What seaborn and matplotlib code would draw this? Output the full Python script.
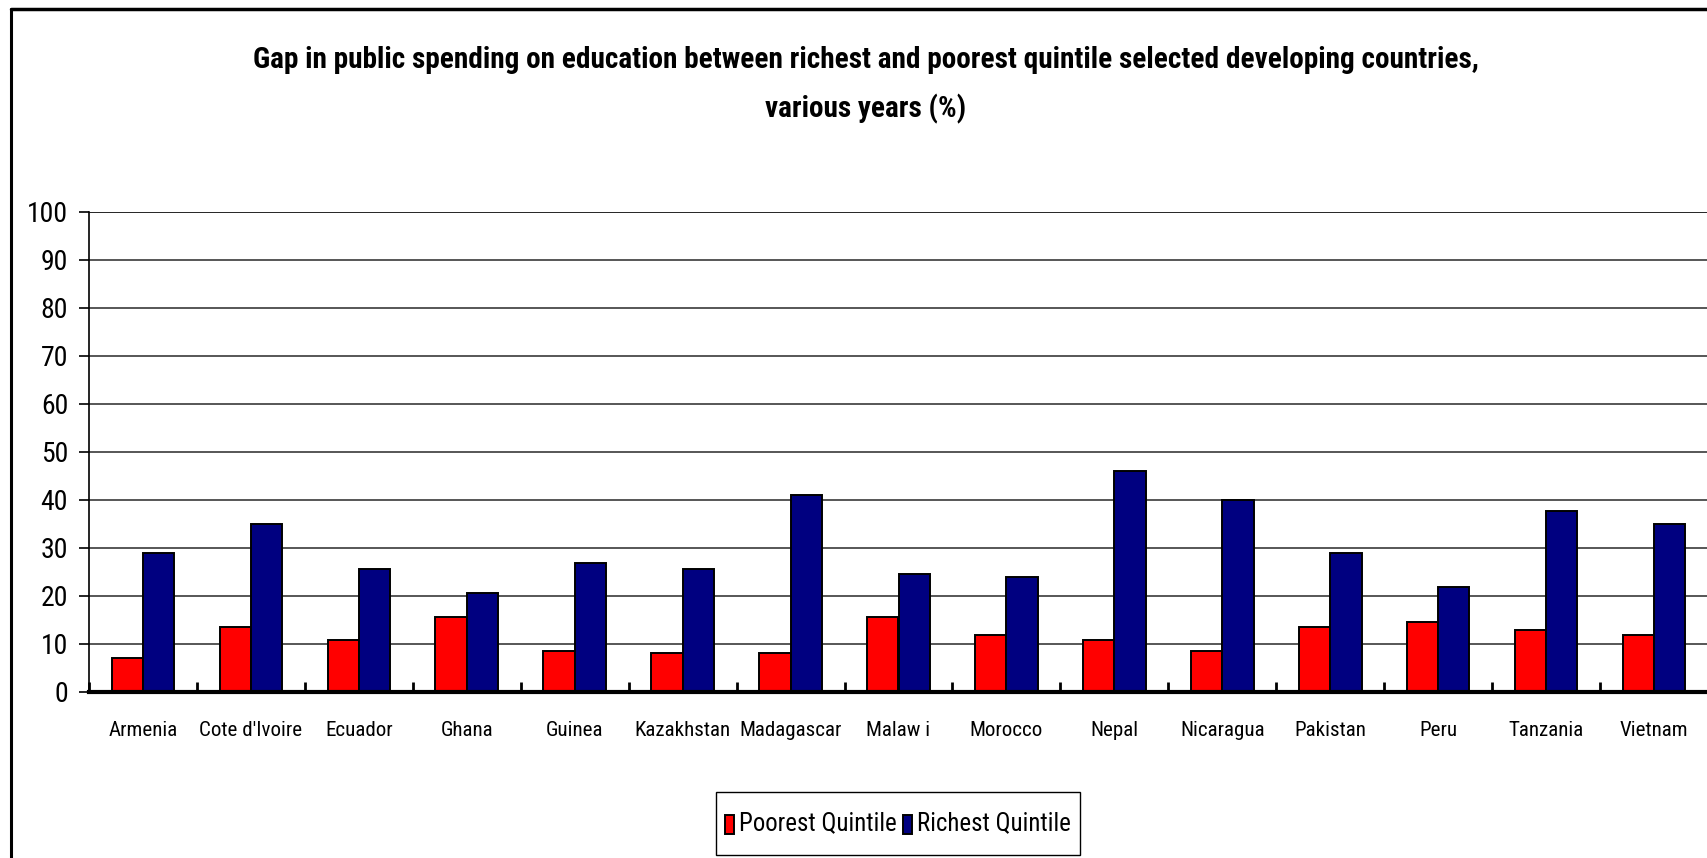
import matplotlib
matplotlib.use("Agg")
import matplotlib.pyplot as plt
import matplotlib.font_manager as fm
import seaborn as sns
import pandas as pd
from matplotlib.lines import Line2D
from matplotlib.patches import Rectangle

countries = ["Armenia", "Cote d'Ivoire", "Ecuador", "Ghana", "Guinea", "Kazakhstan",
             "Madagascar", "Malaw i", "Morocco", "Nepal", "Nicaragua", "Pakistan",
             "Peru", "Tanzania", "Vietnam"]
poorest = [7.0, 13.5, 10.8, 15.7, 8.6, 8.1, 8.1, 15.7, 11.9, 10.8, 8.6, 13.6, 14.6, 13.0, 11.8]
richest = [29.0, 35.0, 25.7, 20.7, 26.8, 25.7, 41.0, 24.5, 24.0, 46.0, 40.0, 28.9, 21.8, 37.8, 35.0]
series_names = ["Poorest Quintile", "Richest Quintile"]
colors = ["#FF0000", "#000080"]
yticks = [0, 10, 20, 30, 40, 50, 60, 70, 80, 90, 100]
title1 = "Gap in public spending on education between richest and poorest quintile selected developing countries,"
title2 = "various years (%)"

df = pd.DataFrame({
    "country": countries * 2,
    "value": poorest + richest,
    "series": [series_names[0]] * len(countries) + [series_names[1]] * len(countries),
})

sns.set_theme(style="white")

# ---- pick a narrow font if one is installed ----
def find_narrow():
    entries = fm.fontManager.ttflist
    prefs = ["Liberation Sans Narrow", "Arial Narrow", "Roboto Condensed",
             "Open Sans Condensed", "Noto Sans Condensed"]
    for p in prefs:
        fam = [e for e in entries if e.name == p and e.style == "normal"]
        if fam:
            reg = [e for e in fam if e.weight in (400, "normal", "regular")] or fam
            bold = [e for e in fam if e.weight in (700, "bold")] or reg
            return reg[0].fname, bold[0].fname
    for base in ["Noto Sans", "DejaVu Sans", "Open Sans"]:
        fam = [e for e in entries if e.name == base and e.style == "normal"
               and e.stretch in ("condensed", "semi-condensed", 75, 87.5)]
        if fam:
            reg = [e for e in fam if e.weight in (400, "normal", "regular")] or fam
            bold = [e for e in fam if e.weight in (700, "bold")] or reg
            return reg[0].fname, bold[0].fname
    return None, None

reg_path, bold_path = find_narrow()
if reg_path:
    FP = lambda: fm.FontProperties(fname=reg_path)
    FPB = lambda: fm.FontProperties(fname=bold_path)
else:
    FP = lambda: fm.FontProperties(family=["Liberation Sans", "DejaVu Sans"])
    FPB = lambda: fm.FontProperties(family=["Liberation Sans", "DejaVu Sans"], weight="bold")

plt.rcParams["font.family"] = ["Liberation Sans", "DejaVu Sans"]
plt.rcParams["text.color"] = "black"
plt.rcParams["xtick.color"] = "black"
plt.rcParams["ytick.color"] = "black"

W, H = 1708, 858
fig = plt.figure(figsize=(W / 100, H / 100), dpi=100)
renderer = fig.canvas.get_renderer()

def fit_size(text, target_px, props_fn, base=20.0):
    t = fig.text(0, 0, text, fontproperties=props_fn(), fontsize=base)
    w = t.get_window_extent(renderer=renderer).width
    t.remove()
    return base * target_px / w

title_fs = fit_size(title1, 1220, FPB)
ytick_fs = fit_size("100", 38, FP) * 1.08
xtick_fs = fit_size("Cote d'Ivoire", 97, FP) * 1.06
leg_fs = fit_size("Poorest Quintile", 151, FP) * 1.04

ax = fig.add_axes([89 / W, (H - 692) / H, 1 - 89 / W, (692 - 212) / H])

sns.barplot(data=df, x="country", y="value", hue="series", palette=colors,
            order=countries, hue_order=series_names, width=0.58, gap=0,
            edgecolor="black", linewidth=1.4, saturation=1, ax=ax, legend=True)

ax.set_ylim(0, 100)
ax.set_xlim(-0.5, len(countries) - 0.5)
ax.set_yticks(yticks)
ax.set_yticklabels([str(t) for t in yticks])
for lab in ax.get_yticklabels():
    lab.set_fontproperties(FP())
    lab.set_fontsize(ytick_fs)
ax.set_xlabel("")
ax.set_ylabel("")

for t in yticks[1:]:
    ax.axhline(t, color="black" if t == 100 else "#3a3a3a", lw=1.2, zorder=0)

for s in ["top", "right"]:
    ax.spines[s].set_visible(False)
ax.spines["left"].set_color("black")
ax.spines["left"].set_linewidth(1.2)
ax.spines["bottom"].set_color("black")
ax.spines["bottom"].set_linewidth(3)

ax.tick_params(axis="y", which="major", direction="out", length=7, width=1.2,
               color="black", pad=8, left=True)
ax.set_xticks(range(len(countries)))
ax.set_xticklabels(countries)
for lab in ax.get_xticklabels():
    lab.set_fontproperties(FP())
    lab.set_fontsize(xtick_fs)
xl_px = xtick_fs * 100 / 72
pad_pt = max(2.0, (733 - 692 - 0.5 * 0.72 * xl_px - 0.2 * xl_px) * 72 / 100)
ax.tick_params(axis="x", which="major", length=0, pad=pad_pt)
ax.set_xticks([i - 0.5 for i in range(len(countries) + 1)], minor=True)
ax.tick_params(axis="x", which="minor", direction="in", length=7, width=2,
               color="black", bottom=True)

leg = ax.legend(loc="center", bbox_to_anchor=(898 / W, (H - 823) / H),
                bbox_transform=fig.transFigure, ncol=2, frameon=False,
                prop=FP(), handlelength=0.55, handleheight=1.3,
                handletextpad=0.3, columnspacing=0.4, borderpad=0.3,
                borderaxespad=0, fancybox=False, shadow=False)
for txt in leg.get_texts():
    txt.set_fontsize(leg_fs)

# legend frame box (taller than matplotlib's own frame, as in the original)
fig.add_artist(Rectangle((716 / W, (H - 855) / H), (1080 - 716) / W, (855 - 792) / H,
                         transform=fig.transFigure, facecolor="none",
                         edgecolor="black", lw=1.0))

fig.text(866 / W, 1 - 60 / H, title1, ha="center", va="center",
         fontproperties=FPB(), fontsize=title_fs)
fig.text(866 / W, 1 - 109 / H, title2, ha="center", va="center",
         fontproperties=FPB(), fontsize=title_fs)

fig.add_artist(Line2D([11 / W, 11 / W], [0, 1 - 9 / H], transform=fig.transFigure,
                      color="black", lw=2.2))
fig.add_artist(Line2D([11 / W, 1], [1 - 9 / H, 1 - 9 / H], transform=fig.transFigure,
                      color="black", lw=2.5))

fig.savefig("out.png", dpi=100)
